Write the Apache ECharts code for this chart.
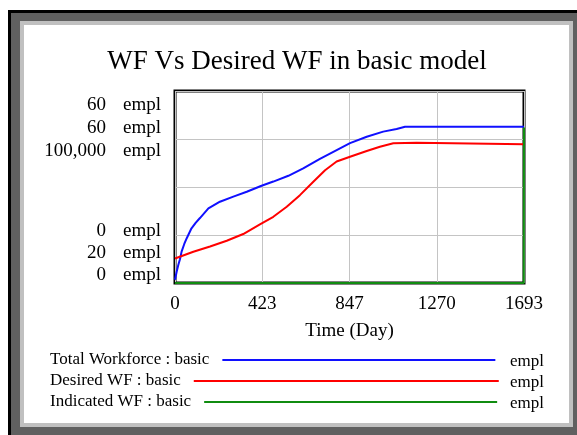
<!DOCTYPE html>
<html>
<head>
<meta charset="utf-8">
<script src="https://cdn.jsdelivr.net/npm/echarts@6/dist/echarts.min.js"></script>
<style>
  html, body { margin: 0; padding: 0; background: #fff; }
  #wf_chart { width: 577px; height: 435px; }
</style>
</head>
<body>
<div id="wf_chart"></div>
<script>
// WF Vs Desired WF (basic model)

// time axis
var xTickLabels = ['0', '423', '847', '1270', '1693'];
var timeMax = 1693;

// Total Workforce : basic (empl)
var totalDays = [0, 8, 16, 24, 32, 45, 57, 80, 100, 121, 162, 218, 283, 348, 420, 477, 550, 622, 703, 768, 849, 930, 1010, 1075, 1116, 1693];
var totalWF = [1.0, 3.5, 5.6, 7.4, 9.8, 12.2, 14.0, 17.1, 18.8, 20.3, 23.3, 25.4, 27.0, 28.5, 30.4, 31.7, 33.5, 35.8, 38.8, 41.0, 43.7, 45.7, 47.3, 48.1, 48.8, 48.8];

// Desired WF : basic (empl)
var desiredDays = [0, 89, 170, 251, 331, 412, 477, 542, 606, 671, 728, 784, 849, 930, 994, 1059, 1172, 1177, 1693];
var desiredWF = [25.1, 26.5, 27.6, 28.8, 30.2, 32.2, 33.8, 35.9, 38.3, 41.1, 43.5, 45.3, 46.3, 47.5, 48.4, 49.1, 49.2, 48.9, 48.9];

// Indicated WF : basic (empl)
var indicatedDays = [0, 1692, 1693];
var indicatedWF = [0, 0, 81000];

// one scale per variable (vensim style)
var seriesNames = ['Total Workforce : basic', 'Desired WF : basic', 'Indicated WF : basic'];
var seriesColors = ['#1010ff', '#ff0000', '#108c10'];
var yMax = [60, 60, 100000];
var yMin = [0, 20, 0];
var unit = 'empl';

function pairs(xs, ys) {
    var out = [];
    for (var i = 0; i < xs.length; i++) {
        out.push([xs[i], ys[i]]);
    }
    return out;
}

var serif = '"Liberation Serif", "Times New Roman", serif';
var wfChart = echarts.init(document.getElementById('wf_chart'));

// frame + texts
var graphics = [
    {type: 'rect', z: -10, shape: {x: 8, y: 10, width: 569, height: 425}, style: {fill: '#606060'}},
    {type: 'rect', z: -10, shape: {x: 8, y: 10, width: 569, height: 3}, style: {fill: '#000'}},
    {type: 'rect', z: -10, shape: {x: 8, y: 10, width: 3, height: 425}, style: {fill: '#000'}},
    {type: 'rect', z: -10, shape: {x: 20, y: 21, width: 553, height: 406}, style: {fill: '#c0c0c0'}},
    {type: 'rect', z: -10, shape: {x: 24, y: 25, width: 545, height: 398}, style: {fill: '#fff'}},
    {type: 'text', x: 297, y: 62, style: {text: 'WF Vs Desired WF in basic model', font: '27px ' + serif, fill: '#000', align: 'center', verticalAlign: 'middle'}}
];

// stacked y labels: max values on top, min values at the bottom
var topY = [105, 128, 151];
var botY = [231, 253, 275];
for (var i = 0; i < 3; i++) {
    graphics.push({type: 'text', x: 106, y: topY[i], style: {text: yMax[i].toLocaleString('en-US'), font: '19px ' + serif, fill: '#000', align: 'right', verticalAlign: 'middle'}});
    graphics.push({type: 'text', x: 123, y: topY[i], style: {text: unit, font: '19px ' + serif, fill: '#000', align: 'left', verticalAlign: 'middle'}});
    graphics.push({type: 'text', x: 106, y: botY[i], style: {text: yMin[i].toLocaleString('en-US'), font: '19px ' + serif, fill: '#000', align: 'right', verticalAlign: 'middle'}});
    graphics.push({type: 'text', x: 123, y: botY[i], style: {text: unit, font: '19px ' + serif, fill: '#000', align: 'left', verticalAlign: 'middle'}});
    // unit at the end of each legend row
    graphics.push({type: 'text', x: 510, y: 362 + i * 21, style: {text: unit, font: '17px ' + serif, fill: '#000', align: 'left', verticalAlign: 'middle'}});
}

// one legend per row so each line can have its own length
var legendLines = [273, 305, 293];
var legends = [];
for (var j = 0; j < 3; j++) {
    legends.push({
        data: [seriesNames[j]],
        left: 50,
        top: 351.5 + j * 21,
        padding: 0,
        align: 'right',
        icon: 'rect',
        itemWidth: legendLines[j],
        itemHeight: 2,
        selectedMode: false,
        textStyle: {fontFamily: serif, fontSize: 17, color: '#000', lineHeight: 17, padding: [0, 8, 0, 0]}
    });
}

var yAxes = [];
for (var k = 0; k < 3; k++) {
    yAxes.push({
        type: 'value',
        min: yMin[k],
        max: yMax[k],
        interval: (yMax[k] - yMin[k]) / 4,
        axisLine: {show: false},
        axisTick: {show: false},
        axisLabel: {show: false},
        splitLine: {show: k === 0, lineStyle: {color: '#c4c4c4', width: 1}}
    });
}

var wfOption = {
    animation: false,
    graphic: graphics,
    legend: legends,
    grid: {
        left: 175, top: 91, right: 53, bottom: 152,
        show: true, borderColor: '#000', borderWidth: 3
    },
    xAxis: {
        type: 'value',
        min: 0,
        max: timeMax,
        interval: timeMax / 4,
        name: 'Time (Day)',
        nameLocation: 'middle',
        nameGap: 39,
        nameTextStyle: {fontFamily: serif, fontSize: 19, color: '#000'},
        axisLine: {show: false},
        axisTick: {show: false},
        axisLabel: {
            margin: 12,
            fontFamily: serif, fontSize: 19, color: '#000',
            showMinLabel: true, showMaxLabel: true,
            formatter: function (v, idx) { return xTickLabels[idx]; }
        },
        splitLine: {show: true, lineStyle: {color: '#c4c4c4', width: 1}}
    },
    yAxis: yAxes,
    series: [
        {name: seriesNames[0], type: 'line', yAxisIndex: 0, data: pairs(totalDays, totalWF), showSymbol: false, color: seriesColors[0], lineStyle: {width: 2}},
        {name: seriesNames[1], type: 'line', yAxisIndex: 1, data: pairs(desiredDays, desiredWF), showSymbol: false, color: seriesColors[1], lineStyle: {width: 2}},
        {name: seriesNames[2], type: 'line', yAxisIndex: 2, data: pairs(indicatedDays, indicatedWF), showSymbol: false, color: seriesColors[2], lineStyle: {width: 2}}
    ]
};
wfChart.setOption(wfOption);
</script>
</body>
</html>
